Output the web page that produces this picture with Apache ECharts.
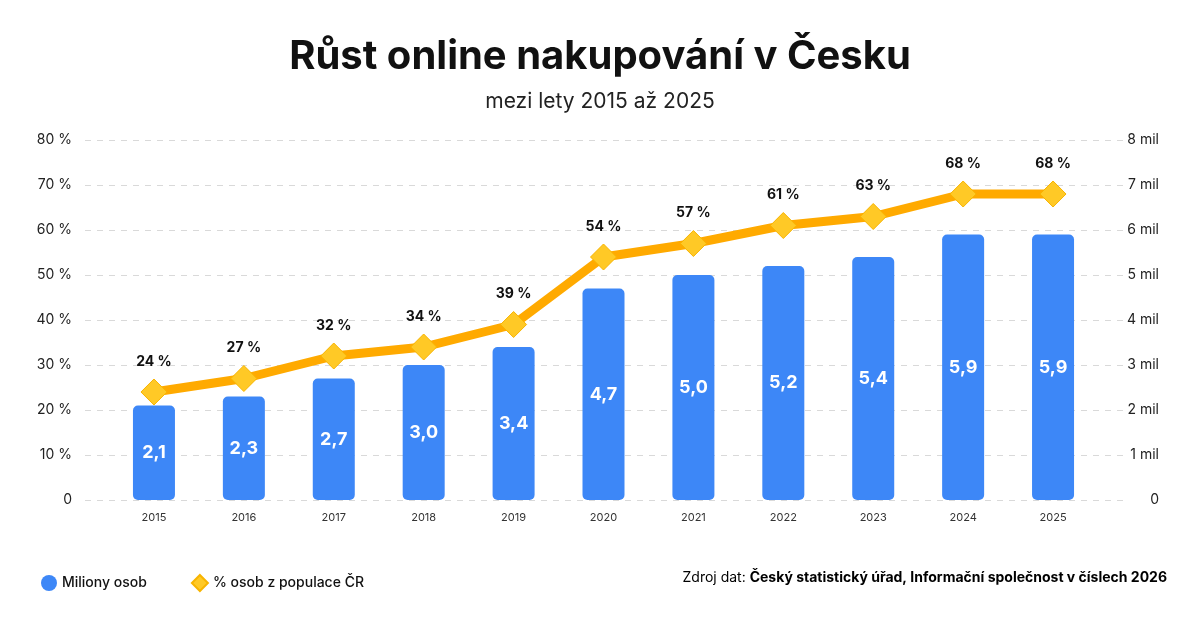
<!DOCTYPE html>
<html>
<head>
<meta charset="utf-8">
<script src="https://cdn.jsdelivr.net/npm/echarts@6/dist/echarts.min.js"></script>
<style>
  html, body { margin: 0; padding: 0; background: #fff; }
  #chart { width: 1200px; height: 628px; }
</style>
</head>
<body>
<div id="chart"></div>
<script>
// data
var years = ['2015', '2016', '2017', '2018', '2019', '2020', '2021', '2022', '2023', '2024', '2025'];
var milionyOsob = [2.1, 2.3, 2.7, 3.0, 3.4, 4.7, 5.0, 5.2, 5.4, 5.9, 5.9];
var procentaPopulace = [24, 27, 32, 34, 39, 54, 57, 61, 63, 68, 68];
var leftTicks = ['0', '10 %', '20 %', '30 %', '40 %', '50 %', '60 %', '70 %', '80 %'];
var rightTicks = ['0', '1 mil', '2 mil', '3 mil', '4 mil', '5 mil', '6 mil', '7 mil', '8 mil'];

var FONT = 'Inter, "Noto Sans", sans-serif';

function carka(v) {
    return v.toFixed(1).replace('.', ',');
}

var option = {
    backgroundColor: '#fff',
    textStyle: { fontFamily: FONT },
    title: [{
        text: 'Růst online nakupování v Česku',
        left: 'center',
        top: 32,
        textStyle: { fontFamily: FONT, fontSize: 40, fontWeight: 700, color: '#111' }
    }, {
        text: 'mezi lety 2015 až 2025',
        left: 'center',
        top: 86,
        textStyle: { fontFamily: FONT, fontSize: 21, fontWeight: 400, color: '#222' }
    }],
    legend: {
        left: 36,
        top: 569,
        itemGap: 44,
        itemWidth: 16,
        itemHeight: 16,
        textStyle: { fontFamily: FONT, fontSize: 14, fontWeight: 500, color: '#111' },
        data: [
            { name: 'Miliony osob', icon: 'circle' },
            { name: '% osob z populace ČR', icon: 'diamond', itemStyle: { color: '#ffc926' } }
        ]
    },
    graphic: [{
        type: 'text',
        right: 33,
        top: 571,
        style: {
            text: '{n|Zdroj dat: }{b|Český statistický úřad, Informační společnost v číslech 2026}',
            rich: {
                n: { fontFamily: FONT, fontSize: 14, fontWeight: 400, color: '#111' },
                b: { fontFamily: FONT, fontSize: 14, fontWeight: 700, color: '#111' }
            }
        }
    }],
    grid: [
        // plot area
        { left: 109, right: 102, top: 140, bottom: 128 },
        // wider area just for dashed lines
        { left: 85, right: 75, top: 140, bottom: 128 }
    ],
    xAxis: [{
        type: 'category',
        gridIndex: 0,
        data: years,
        axisLine: { show: false },
        axisTick: { show: false },
        axisLabel: { color: '#333', fontSize: 11, margin: 12 }
    }, {
        type: 'category',
        gridIndex: 1,
        data: years,
        show: false
    }],
    yAxis: [{
        type: 'value',
        gridIndex: 0,
        position: 'left',
        min: 0,
        max: 80,
        interval: 10,
        splitLine: { show: false },
        axisLine: { show: false },
        axisTick: { show: false },
        axisLabel: {
            color: '#222',
            fontSize: 14,
            margin: 37,
            formatter: function(v) { return leftTicks[Math.round(v / 10)]; }
        }
    }, {
        type: 'value',
        gridIndex: 0,
        position: 'right',
        min: 0,
        max: 8,
        interval: 1,
        splitLine: { show: false },
        axisLine: { show: false },
        axisTick: { show: false },
        axisLabel: {
            color: '#222',
            fontSize: 14,
            align: 'right',
            margin: 61,
            formatter: function(v) { return rightTicks[Math.round(v)]; }
        }
    }, {
        type: 'value',
        gridIndex: 1,
        min: 0,
        max: 80,
        interval: 10,
        axisLabel: { show: false },
        axisLine: { show: false },
        axisTick: { show: false },
        splitLine: {
            lineStyle: { color: '#d9d9d9', type: [6, 6], width: 1 }
        }
    }],
    series: [{
        name: 'Miliony osob',
        type: 'bar',
        xAxisIndex: 0,
        yAxisIndex: 1,
        data: milionyOsob,
        barWidth: 42,
        itemStyle: {
            color: '#3d87f7',
            borderRadius: 5
        },
        label: {
            show: true,
            position: 'inside',
            color: '#fff',
            fontFamily: FONT,
            fontSize: 18,
            fontWeight: 700,
            formatter: function(p) { return carka(p.value); }
        },
        z: 2
    }, {
        name: '% osob z populace ČR',
        type: 'line',
        xAxisIndex: 0,
        yAxisIndex: 0,
        data: procentaPopulace,
        symbol: 'diamond',
        symbolSize: 26,
        showAllSymbol: true,
        lineStyle: { color: '#ffaa00', width: 9 },
        itemStyle: { color: '#ffc926', borderColor: '#f8b400', borderWidth: 1 },
        label: {
            show: true,
            position: 'top',
            distance: 10,
            color: '#111',
            fontFamily: FONT,
            fontSize: 14,
            fontWeight: 700,
            formatter: function(p) { return p.value + ' %'; }
        },
        z: 5
    }]
};

var myChart = echarts.init(document.getElementById('chart'));
myChart.setOption(option);
</script>
</body>
</html>
